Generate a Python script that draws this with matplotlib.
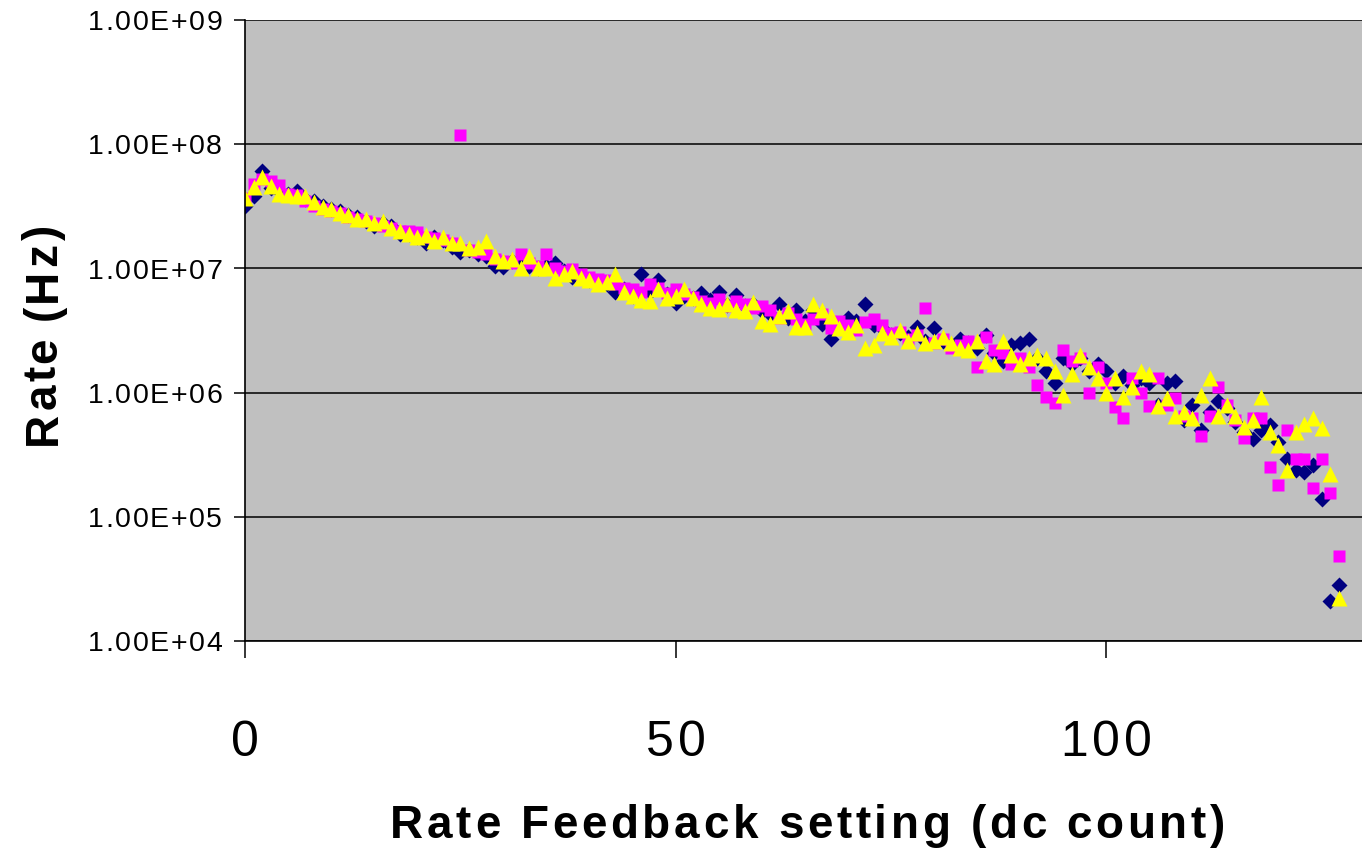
#!/usr/bin/env python3

# Rate vs rate feedback setting, three scans on a log scale, Excel-style.

import matplotlib
matplotlib.use('Agg')
import matplotlib.pyplot as plt
import matplotlib.ticker as mt
from matplotlib.transforms import IdentityTransform

plt.rcParams['font.family'] = ['Liberation Sans', 'DejaVu Sans']

# dc count settings 0..127
setting = list(range(128))

scan_a = [
    3.2e7, 3.8e7, 6.1e7, 4.4e7, 4.2e7, 4.0e7, 4.2e7, 3.6e7, 3.5e7, 3.2e7,
    3.0e7, 2.9e7, 2.7e7, 2.6e7, 2.4e7, 2.2e7, 2.3e7, 2.2e7, 1.9e7, 1.9e7,
    1.8e7, 1.6e7, 1.8e7, 1.7e7, 1.5e7, 1.35e7, 1.4e7, 1.3e7, 1.25e7, 1.05e7,
    1.02e7, 1.15e7, 1.1e7, 1.05e7, 1.0e7, 1.05e7, 1.1e7, 9.5e6, 8.5e6, 8.8e6,
    8.0e6, 7.8e6, 7.5e6, 6.5e6, 6.8e6, 6.0e6, 9.0e6, 6.5e6, 8.0e6, 6.2e6,
    5.3e6, 6.0e6, 5.8e6, 6.3e6, 5.6e6, 6.4e6, 5.1e6, 6.1e6, 5.0e6, 5.2e6,
    4.5e6, 4.3e6, 5.2e6, 4.0e6, 4.6e6, 3.8e6, 4.6e6, 3.6e6, 2.7e6, 3.4e6,
    4.0e6, 3.8e6, 5.2e6, 3.5e6, 3.3e6, 2.9e6, 3.0e6, 2.8e6, 3.4e6, 2.6e6,
    3.3e6, 2.6e6, 2.4e6, 2.7e6, 2.5e6, 2.3e6, 2.9e6, 2.1e6, 1.8e6, 2.4e6,
    2.5e6, 2.7e6, 1.9e6, 1.5e6, 1.2e6, 1.9e6, 1.7e6, 1.9e6, 1.5e6, 1.7e6,
    1.5e6, 1.2e6, 1.35e6, 1.15e6, 1.3e6, 1.2e6, 8.0e5, 1.2e6, 1.25e6, 6.0e5,
    8.0e5, 5.0e5, 7.0e5, 8.5e5, 7.5e5, 5.8e5, 4.8e5, 4.2e5, 5.0e5, 5.5e5,
    4.0e5, 2.9e5, 2.4e5, 2.3e5, 2.6e5, 1.38e5, 2.1e4, 2.8e4,
]

scan_b = [
    3.7e7, 4.8e7, 5.2e7, 5.1e7, 4.7e7, 4.0e7, 3.9e7, 3.5e7, 3.2e7, 3.0e7,
    2.9e7, 2.8e7, 2.6e7, 2.5e7, 2.4e7, 2.3e7, 2.2e7, 2.1e7, 2.0e7, 2.0e7,
    1.95e7, 1.8e7, 1.75e7, 1.7e7, 1.6e7, 1.18e8, 1.4e7, 1.35e7, 1.3e7, 1.2e7,
    1.15e7, 1.1e7, 1.3e7, 1.1e7, 1.05e7, 1.3e7, 1.0e7, 9.6e6, 9.8e6, 9.0e6,
    8.6e6, 8.2e6, 8.0e6, 7.5e6, 7.0e6, 6.8e6, 6.5e6, 7.5e6, 7.0e6, 6.3e6,
    6.8e6, 6.2e6, 5.9e6, 5.5e6, 5.3e6, 5.7e6, 5.0e6, 5.5e6, 5.2e6, 4.8e6,
    5.0e6, 4.6e6, 4.0e6, 4.4e6, 3.9e6, 3.6e6, 3.9e6, 4.3e6, 3.3e6, 3.8e6,
    3.5e6, 3.2e6, 3.7e6, 3.9e6, 3.5e6, 3.0e6, 3.1e6, 2.7e6, 2.9e6, 4.8e6,
    2.5e6, 2.7e6, 2.3e6, 2.4e6, 2.6e6, 1.6e6, 2.8e6, 2.2e6, 2.1e6, 1.7e6,
    1.9e6, 1.6e6, 1.15e6, 9.3e5, 8.3e5, 2.2e6, 1.8e6, 1.9e6, 1.0e6, 1.6e6,
    1.2e6, 7.6e5, 6.2e5, 1.3e6, 1.0e6, 7.8e5, 1.3e6, 8.0e5, 9.0e5, 6.5e5,
    6.3e5, 4.5e5, 6.5e5, 1.1e6, 8.0e5, 6.0e5, 4.3e5, 6.2e5, 6.2e5, 2.5e5,
    1.8e5, 5.0e5, 2.9e5, 2.9e5, 1.7e5, 2.9e5, 1.55e5, 4.8e4,
]

scan_c = [
    3.7e7, 4.5e7, 5.4e7, 4.6e7, 4.0e7, 3.9e7, 3.8e7, 3.8e7, 3.4e7, 3.1e7,
    3.0e7, 2.8e7, 2.7e7, 2.5e7, 2.5e7, 2.3e7, 2.4e7, 2.1e7, 2.0e7, 1.9e7,
    1.8e7, 1.85e7, 1.65e7, 1.8e7, 1.6e7, 1.6e7, 1.45e7, 1.5e7, 1.65e7, 1.25e7,
    1.15e7, 1.2e7, 1.0e7, 1.25e7, 1.0e7, 1.0e7, 8.3e6, 9.0e6, 9.5e6, 8.3e6,
    8.0e6, 7.5e6, 7.8e6, 9.0e6, 6.5e6, 6.0e6, 5.6e6, 5.5e6, 6.8e6, 5.8e6,
    6.0e6, 6.8e6, 5.8e6, 5.2e6, 4.8e6, 4.7e6, 5.2e6, 4.6e6, 4.5e6, 5.4e6,
    3.8e6, 3.6e6, 4.1e6, 4.5e6, 3.4e6, 3.4e6, 5.2e6, 4.6e6, 4.1e6, 3.3e6,
    3.1e6, 3.5e6, 2.3e6, 2.4e6, 3.0e6, 2.8e6, 3.2e6, 2.6e6, 3.0e6, 2.5e6,
    2.6e6, 2.8e6, 2.5e6, 2.3e6, 2.2e6, 2.6e6, 1.8e6, 1.7e6, 2.6e6, 2.0e6,
    1.7e6, 1.9e6, 2.0e6, 1.9e6, 1.5e6, 9.5e5, 1.4e6, 2.0e6, 1.6e6, 1.3e6,
    1.0e6, 1.3e6, 9.2e5, 1.1e6, 1.5e6, 1.4e6, 7.8e5, 9.0e5, 6.5e5, 7.0e5,
    6.3e5, 9.5e5, 1.3e6, 6.5e5, 8.0e5, 6.5e5, 5.3e5, 6.0e5, 9.2e5, 4.8e5,
    3.8e5, 2.4e5, 4.8e5, 5.6e5, 6.2e5, 5.2e5, 2.2e5, 2.2e4,
]

x_ticks = [0, 50, 100]
x_tick_labels = ['0', '50', '100']
y_ticks = [1e4, 1e5, 1e6, 1e7, 1e8, 1e9]
y_tick_labels = ['1.00E+04', '1.00E+05', '1.00E+06', '1.00E+07', '1.00E+08', '1.00E+09']

W, H = 1362, 849


def ink_width(fig, renderer, s, **kw):
    t = fig.text(0, 0, s, transform=IdentityTransform(), **kw)
    w = t.get_window_extent(renderer).width
    t.remove()
    return w


def spaced_text(fig, s, start, base, gap, rotation=0, **kw):
    """Draw s glyph by glyph with `gap` px of extra tracking, ink starting at
    `start` along the baseline `base` (pixel coords)."""
    r = fig.canvas.get_renderer()
    bar = ink_width(fig, r, '|', **kw)
    bar2 = ink_width(fig, r, '||', **kw)
    bar_adv = bar2 - bar

    def bearing(ch):
        # left side bearing relative to that of '|'
        return ink_width(fig, r, '|' + ch, **kw) - bar_adv - ink_width(fig, r, ch, **kw)

    origin = start - bearing(s[0])
    for i, ch in enumerate(s):
        if ch == ' ':
            continue
        adv = ink_width(fig, r, '|' + s[:i] + '|', **kw) - bar2 if i else 0.0
        d = origin + adv + bearing(ch) + i * gap
        x, y = (base, d) if rotation else (d, base)
        fig.text(x, y, ch, transform=IdentityTransform(), rotation=rotation,
                 rotation_mode='anchor', ha='left', va='baseline', **kw)


def tracking(fig, s, length, **kw):
    """Extra px per gap so that s spans `length` pixels."""
    natural = ink_width(fig, fig.canvas.get_renderer(), s, **kw)
    return (length - natural) / (len(s) - 1)


def main(output: str):
    fig = plt.figure(figsize=(W / 100, H / 100), dpi=100)
    ax = fig.add_axes([245 / W, 208 / H, 1117 / W, 621 / H])
    ax.set_facecolor('#C0C0C0')

    ax.plot(setting, scan_a, ls='none', marker='D', ms=8.3, color='#000080', mec='none')
    ax.plot(setting, scan_b, ls='none', marker='s', ms=9.3, color='#FF00FF', mec='none')
    ax.plot(setting, scan_c, ls='none', marker='^', ms=12, color='#FFFF00', mec='none')

    ax.set_yscale('log')
    ax.set_ylim(1e4, 1e9)
    ax.set_xlim(0, 129.7)

    ax.set_yticks(y_ticks)
    ax.yaxis.set_minor_locator(mt.NullLocator())
    ax.set_xticks(x_ticks)
    ax.xaxis.set_minor_locator(mt.NullLocator())

    ax.grid(True, axis='y', color='black', lw=1.1)
    ax.set_axisbelow(True)
    for side in ('top', 'right'):
        ax.spines[side].set_visible(False)
    for side in ('left', 'bottom'):
        ax.spines[side].set_color('black')
        ax.spines[side].set_linewidth(1.2)

    ax.tick_params(axis='y', length=8, width=1.1, labelleft=False)
    ax.tick_params(axis='x', length=12, width=1.1, labelbottom=False)
    r = fig.canvas.get_renderer()

    # tick labels and titles, drawn with wide tracking
    ylab_pt = 20.5
    cap = 0.716 * ylab_pt * 100 / 72
    ygap = tracking(fig, y_tick_labels[0], 134, fontsize=ylab_pt)
    for v, lab in zip(y_ticks, y_tick_labels):
        yc = ax.transData.transform((0, v))[1]
        w = ink_width(fig, r, lab, fontsize=ylab_pt) + ygap * (len(lab) - 1)
        spaced_text(fig, lab, 222 - w, yc - cap / 2, ygap, fontsize=ylab_pt)

    xlab_pt = 36
    xgap = 4
    for v, lab in zip(x_ticks, x_tick_labels):
        xc = ax.transData.transform((v, 1e4))[0]
        w = ink_width(fig, r, lab, fontsize=xlab_pt) + xgap * (len(lab) - 1)
        spaced_text(fig, lab, xc - w / 2, H - 756, xgap, fontsize=xlab_pt)

    title_kw = dict(fontsize=33, fontweight='bold')
    xtitle = 'Rate Feedback setting (dc count)'
    spaced_text(fig, xtitle, 390, H - 838, tracking(fig, xtitle, 835, **title_kw), **title_kw)
    ytitle = 'Rate (Hz)'
    spaced_text(fig, ytitle, H - 445, 56, tracking(fig, ytitle, 220, **title_kw),
                rotation=90, **title_kw)

    fig.savefig(output, dpi=100)


if __name__ == '__main__':
    main('out.png')
